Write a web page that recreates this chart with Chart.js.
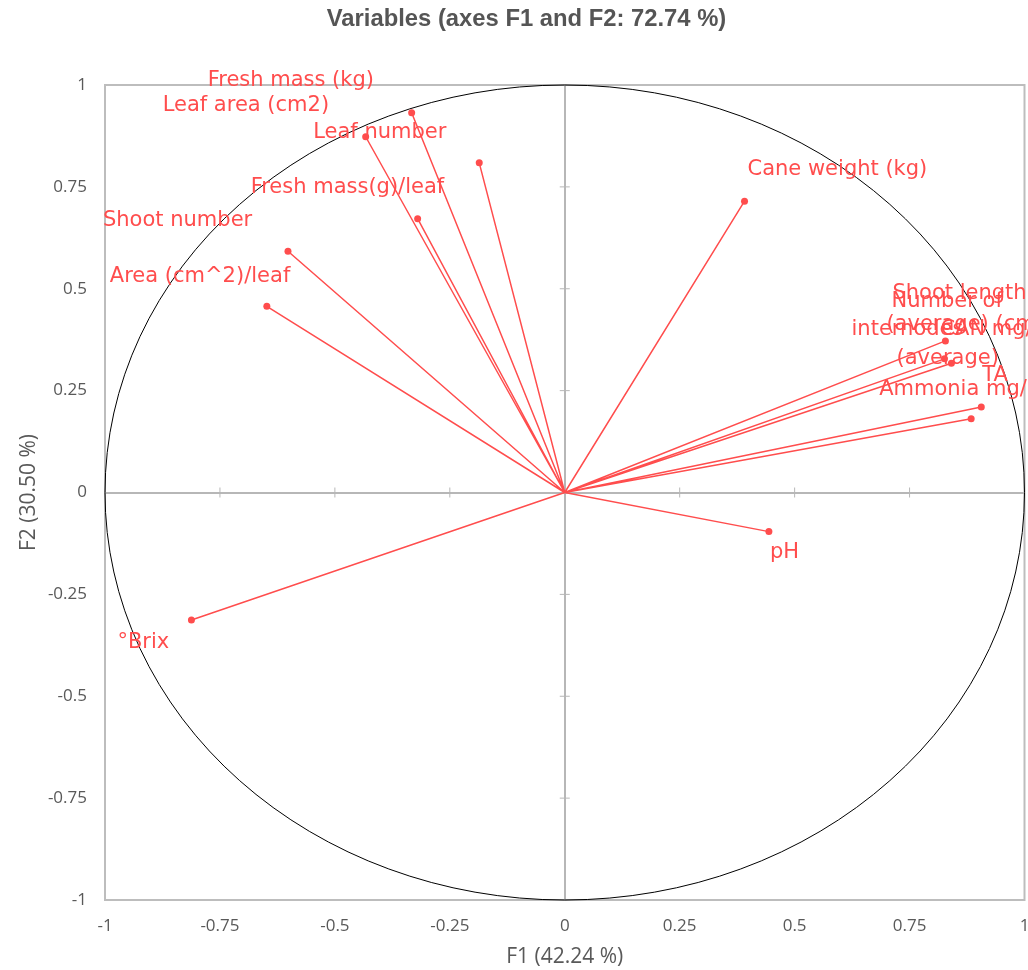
<!DOCTYPE html>
<html><head><meta charset="utf-8">
<script src="https://cdn.jsdelivr.net/npm/chart.js@4/dist/chart.umd.min.js"></script>
<style>html,body{margin:0;padding:0;background:#fff}#wrap{width:1028px;height:970px;position:relative}</style>
</head><body><div id="wrap"><canvas id="c" width="1028" height="970"></canvas></div>
<script>
// ---- data ----
const variables = ['Fresh mass (kg)','Leaf area (cm2)','Leaf number','Fresh mass(g)/leaf','Shoot number','Area (cm^2)/leaf','Cane weight (kg)','pH','°Brix','Shoot length (average) (cm)','Number of internodes (average)','CAN mg/L','TA','Ammonia mg/L'];
const f1Loadings = [-0.333,-0.433,-0.186,-0.320,-0.602,-0.648,0.391,0.444,-0.812,0.828,0.826,0.841,0.906,0.884];
const f2Loadings = [0.932,0.873,0.809,0.672,0.592,0.457,0.715,-0.096,-0.313,0.372,0.328,0.317,0.210,0.181];
const tickValues = [-1,-0.75,-0.5,-0.25,0,0.25,0.5,0.75,1];
const chartTitle = 'Variables (axes F1 and F2: 72.74 %)';
const xTitle = 'F1 (42.24 %)';
const yTitle = 'F2 (30.50 %)';

// ---- label layout (pixel offsets from each point, left aligned) ----
const labelLayout = [
  [['Fresh mass (kg)',-204,-32]],
  [['Leaf area (cm2)',-203,-31]],
  [['Leaf number',-166,-30]],
  [['Fresh mass(g)/leaf',-167,-31]],
  [['Shoot number',-185,-31]],
  [['Area (cm^2)/leaf',-157,-30]],
  [['Cane weight (kg)',3,-32]],
  [['pH',1,21]],
  [['°Brix',-74,22]],
  [['Shoot length',-53,-47],['(average) (cm)',-59,-16]],
  [['Number of',-53,-57],['internodes',-93,-29],['(average)',-48,0]],
  [['CAN mg/L',-11,-34]],
  [['TA',1,-31]],
  [['Ammonia mg/L',-92,-29]]
];

const RED = '#ff4d4d';
const GRAY = '#b7b7b7';

const pointData = f1Loadings.map((v,i)=>({x:v,y:f2Loadings[i]}));
const segData = [];
f1Loadings.forEach((v,i)=>{ segData.push({x:0,y:0}); segData.push({x:v,y:f2Loadings[i]}); segData.push({x:0,y:null}); });

const decor = {
  id:'decor',
  beforeDatasetsDraw(chart){
    const {ctx, chartArea:a, scales:{x,y}} = chart;
    ctx.save();
    ctx.strokeStyle = '#bdbdbd'; ctx.lineWidth = 2;
    ctx.strokeRect(a.left, a.top, a.right-a.left, a.bottom-a.top);
    const x0 = x.getPixelForValue(0), y0 = y.getPixelForValue(0);
    ctx.strokeStyle = GRAY; ctx.lineWidth = 1;
    tickValues.forEach(v=>{
      if (v===0 || Math.abs(v)===1) return;
      const py = y.getPixelForValue(v), px = x.getPixelForValue(v);
      ctx.beginPath(); ctx.moveTo(x0-5,py); ctx.lineTo(x0+5,py); ctx.stroke();
      ctx.beginPath(); ctx.moveTo(px,y0-5); ctx.lineTo(px,y0+5); ctx.stroke();
    });
    const rx = x.getPixelForValue(1)-x0, ry = y0-y.getPixelForValue(1);
    ctx.strokeStyle = '#000'; ctx.lineWidth = 1;
    ctx.beginPath(); ctx.ellipse(x0,y0,rx,ry,0,0,Math.PI*2); ctx.stroke();
    ctx.restore();
  },
  afterDatasetsDraw(chart){
    const {ctx} = chart;
    const meta = chart.getDatasetMeta(1);
    ctx.save();
    ctx.font = '21px "DejaVu Sans"';
    ctx.fillStyle = RED; ctx.textAlign = 'left'; ctx.textBaseline = 'middle';
    labelLayout.forEach((lines,i)=>{
      const el = meta.data[i];
      lines.forEach(([t,dx,dy])=>ctx.fillText(t, el.x+dx, el.y+dy));
    });
    ctx.font = 'bold 23.8px "Liberation Sans", Arial';
    ctx.fillStyle = '#555555'; ctx.textAlign = 'center';
    ctx.fillText(chartTitle, 526.5, 19);
    ctx.restore();
  }
};

const fmt = v => String(v);

new Chart(document.getElementById('c'), {
  type:'scatter',
  data:{datasets:[
    {data:segData, showLine:true, spanGaps:false, borderColor:RED, borderWidth:1.5, pointRadius:0, pointHoverRadius:0},
    {data:pointData, showLine:false, pointRadius:3.5, pointBackgroundColor:RED, pointBorderWidth:0, pointHoverRadius:3.5}
  ]},
  options:{
    responsive:false, animation:false, events:[],
    layout:{padding:{left:0,right:3,top:85,bottom:0}},
    plugins:{legend:{display:false}, tooltip:{enabled:false}, title:{display:false}},
    scales:{
      x:{type:'linear', min:-1, max:1,
        afterBuildTicks(s){ s.ticks = tickValues.map(v=>({value:v})); },
        afterFit(s){ s.height = 70; s.paddingLeft = 0; s.paddingRight = 0; },
        grid:{drawTicks:false, lineWidth:2, color:c=>c.tick && c.tick.value===0 ? GRAY : 'rgba(0,0,0,0)'},
        border:{display:false},
        ticks:{padding:16, color:'#595959', font:{family:'"Open Sans"', size:17}, maxRotation:0, autoSkip:false, callback:fmt},
        title:{display:true, text:xTitle, color:'#595959', font:{family:'"Open Sans"', size:21}, padding:{top:0,bottom:0}}
      },
      y:{type:'linear', min:-1, max:1,
        afterBuildTicks(s){ s.ticks = tickValues.map(v=>({value:v})); },
        afterFit(s){ s.width = 105; s.paddingTop = 0; s.paddingBottom = 0; },
        grid:{drawTicks:false, lineWidth:2, color:c=>c.tick && c.tick.value===0 ? GRAY : 'rgba(0,0,0,0)'},
        border:{display:false},
        ticks:{padding:18, color:'#595959', font:{family:'"Open Sans"', size:17}, autoSkip:false, callback:fmt},
        title:{display:true, text:yTitle, color:'#595959', font:{family:'"Open Sans"', size:21}, padding:{top:16,bottom:0}}
      }
    }
  },
  plugins:[decor]
});
</script></body></html>
